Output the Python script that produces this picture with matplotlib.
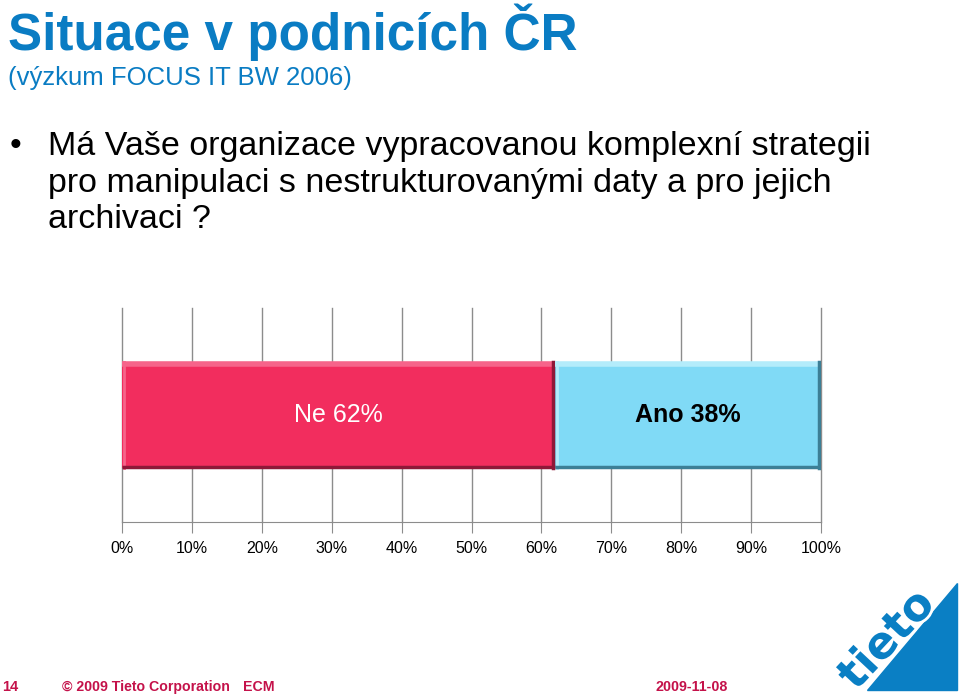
import matplotlib
matplotlib.use('Agg')
import matplotlib.pyplot as plt
import matplotlib.patheffects as pe
from matplotlib.patches import Polygon

plt.rcParams['font.family'] = ['Liberation Sans', 'DejaVu Sans']

# data
answers = ['Ne', 'Ano']
shares = [62, 38]
bar_colors = ['#F22D5E', '#80DAF6']
light_colors = ['#F6648A', '#B4ECFB']
dark_colors = ['#8E1838', '#3C7F96']
label_colors = ['white', 'black']
label_weights = ['normal', 'bold']
tick_values = [0, 10, 20, 30, 40, 50, 60, 70, 80, 90, 100]
tick_labels = ['%d%%' % v for v in tick_values]

W, H = 960, 698
fig = plt.figure(figsize=(W / 100, H / 100), dpi=100)
fig.patch.set_facecolor('white')


def fx(px):
    return px / W


def fy(py):
    return 1 - py / H


# header texts
blue = '#0A7CC3'
fig.text(fx(8), fy(50), 'Situace v podnicích ČR', fontsize=36.9, fontweight='bold',
         color=blue, va='baseline')
fig.text(fx(8), fy(85), '(výzkum FOCUS IT BW 2006)', fontsize=18.5, color=blue, va='baseline')

fig.text(fx(10), fy(155), '•', fontsize=24, color='black', va='baseline')
question = ['Má Vaše organizace vypracovanou komplexní strategii',
            'pro manipulaci s nestrukturovanými daty a pro jejich',
            'archivaci ?']
for i, line in enumerate(question):
    fig.text(fx(48), fy(155 + i * 36.5), line, fontsize=24.5, color='black', va='baseline')

# chart
ax = fig.add_axes([fx(122), fy(522), fx(821) - fx(122), (522 - 308) / H])
bar_h = 0.496
y0, y1 = 0.5 - bar_h / 2, 0.5 + bar_h / 2
left = 0
for name, val, c, lc_, dc, tc, tw in zip(answers, shares, bar_colors, light_colors,
                                         dark_colors, label_colors, label_weights):
    ax.barh(0.5, val, left=left, height=bar_h, color=c, edgecolor=c,
            linewidth=0, zorder=3)
    # bevel: light top/left, dark bottom/right
    ax.plot([left, left + val], [y1 - 0.012, y1 - 0.012], color=lc_, lw=4, zorder=4,
            solid_capstyle='butt')
    ax.plot([left + 0.3, left + 0.3], [y0, y1], color=lc_, lw=2, zorder=4)
    ax.plot([left, left + val], [y0 + 0.006, y0 + 0.006], color=dc, lw=2.5, zorder=4,
            solid_capstyle='butt')
    ax.plot([left + val - 0.3, left + val - 0.3], [y0, y1], color=dc, lw=2.5, zorder=4)
    ax.text(left + val / 2, 0.5, '%s %d%%' % (name, val), ha='center', va='center',
            fontsize=18, color=tc, fontweight=tw, zorder=5)
    left += val

ax.set_xlim(0, 100)
ax.set_ylim(0, 1)
ax.set_xticks(tick_values)
ax.set_xticklabels(tick_labels, fontsize=11.5)
ax.set_yticks([])
for v in tick_values:
    ax.axvline(v, color='#8C8C8C', lw=1, zorder=1, clip_on=False)
for s in ['top', 'right', 'left']:
    ax.spines[s].set_visible(False)
ax.spines['bottom'].set_color('#8C8C8C')
ax.tick_params(axis='x', length=8, color='#8C8C8C', pad=6)
ax.set_facecolor('none')

# footer
red = '#C4124A'
fig.text(fx(2), fy(691), '14', fontsize=10.5, color=red, fontweight='bold', va='baseline')
fig.text(fx(62), fy(691), '© 2009 Tieto Corporation', fontsize=10.2, color=red,
         fontweight='bold', va='baseline')
fig.text(fx(243), fy(691), 'ECM', fontsize=10.2, color=red, fontweight='bold', va='baseline')
fig.text(fx(655), fy(691), '2009-11-08', fontsize=10.3, color=red, fontweight='bold',
         va='baseline')

# logo
logo_blue = '#0A7FC4'
tri = Polygon([(fx(867), fy(690)), (fx(957), fy(690)), (fx(957), fy(583))],
              closed=True, transform=fig.transFigure, color=logo_blue)
fig.add_artist(tri)
fig.text(fx(887), fy(640), 'tieto', fontsize=32, fontweight='bold', color=logo_blue,
         rotation=47, ha='center', va='center', family='DejaVu Sans',
         path_effects=[pe.withStroke(linewidth=4, foreground='white')])

fig.savefig('out.png', dpi=100)
